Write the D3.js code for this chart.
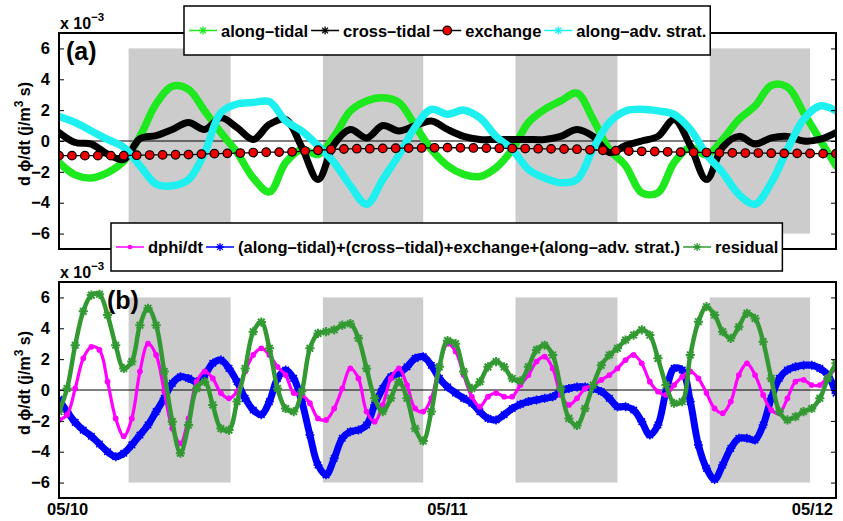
<!DOCTYPE html>
<html>
<head>
<meta charset="utf-8">
<script src="https://cdn.jsdelivr.net/npm/d3@7/dist/d3.min.js"></script>
<style>
  body { margin: 0; background: #fff; }
  svg { display: block; }
  text { font-family: "Liberation Sans", Arial, Helvetica, sans-serif; font-weight: bold; fill: #000; }
</style>
</head>
<body>
<div id="chart"></div>
<script>
// ---- data (units of 1e-3 j/m^3 s), time in hours from 05/10 00:00 ----
const stepA = 1;      // hourly samples, panel (a)
const stepExch = 0.8; // exchange markers
const stepB = 0.5;    // half-hour samples, panel (b)

const alongTidal = [-1.4, -2.2, -2.4, -2.05, -1.3, 0.3, 2.4, 3.55, 3.35, 1.95,
  0.55, -0.75, -2.4, -3.3, -1.4, -0.55, -0.87, 0.3, 1.95, 2.6,
  2.8, 2.5, 1.0, -0.55, -1.6, -2.16, -2.3, -1.73, -0.55, 1.2,
  2.05, 2.6, 3.1, 1.4, -0.55, -1.6, -3.35, -3.35, -1.4, -0.43,
  -0.9, 0.1, 1.4, 2.27, 3.6, 3.5, 1.84, 0.1, -1.6];

const crossTidal = [0.55, -0.1, -0.2, -0.85, -1.2, 0.15, 0.35, 0.75, 1.2, 0.75,
  1.5, 0.87, 0.1, 1.08, 1.4, -0.4, -2.5, -0.2, 0.75, 0.2,
  1.0, 0.65, 1.0, 1.3, 0.75, 0.3, 0.1, 0.1, 0.1, 0.1,
  0.1, 0.3, 0.75, 0.3, -0.75, -0.3, 0.0, 0.3, 1.4, -0.3,
  -2.5, -0.4, 0.3, -0.2, 0.2, 0.3, 0.0, 0.1, 0.55];

const exchange = [-0.95, -0.95, -0.95, -0.95, -0.95, -0.95, -0.92, -0.91, -0.9, -0.89,
  -0.88, -0.85, -0.82, -0.8, -0.78, -0.75, -0.73, -0.72, -0.7, -0.65,
  -0.6, -0.55, -0.52, -0.5, -0.5, -0.48, -0.47, -0.46, -0.45, -0.44,
  -0.43, -0.44, -0.45, -0.46, -0.47, -0.48, -0.49, -0.5, -0.51, -0.52,
  -0.53, -0.57, -0.6, -0.63, -0.65, -0.67, -0.68, -0.7, -0.72, -0.73,
  -0.75, -0.76, -0.77, -0.78, -0.78, -0.79, -0.8, -0.8, -0.81, -0.82, -0.82];

const alongAdvStrat = [1.58, 1.2, 0.65, 0.1, -0.4, -1.6, -2.8, -2.9, -2.5, -0.75,
  1.84, 2.4, 2.5, 2.55, 1.3, 0.65, -0.3, -1.4, -2.9, -4.1,
  -2.5, -0.9, 0.9, 2.05, 1.73, 2.0, 1.5, 0.3, -0.55, -1.84,
  -2.4, -2.7, -2.5, -0.5, 1.2, 1.95, 2.05, 1.95, 1.73, 0.75,
  -0.87, -2.05, -3.46, -4.1, -2.7, -0.55, 1.4, 2.27, 1.95];

const dphiDt = [-1.94, -1.6, 0.1, 2.05, 2.8, 2.6, 0.54, -1.84, -3.0, -1.84,
  1.2, 3.0, 2.27, -0.1, -2.5, -3.46, -1.84, 0.54, 1.2, 0.75,
  -0.2, -0.54, -0.1, 1.2, 2.27, 2.7, 2.27, 1.5, 0.97, -0.2,
  -0.32, -0.86, -1.84, -1.94, -1.2, 0.1, 1.4, 0.75, -1.4, -2.05,
  -0.97, 0.75, 1.4, 0.32, -1.2, -1.4, -0.54, 1.6, 3.0, 2.5,
  0.97, -0.43, -1.08, -0.43, -0.2, -0.43, -0.43, 0.32, 0.97, 1.84,
  2.16, 1.4, -0.32, -0.97, -0.54, 0.1, 0.32, 0.65, 0.97, 1.4,
  1.94, 2.27, 1.73, 0.54, -0.1, -0.32, 0.32, 0.86, 1.2, 0.75,
  -0.2, -1.2, -1.5, -0.75, 0.97, 1.73, 0.97, -0.32, -1.3, -1.5,
  -0.54, 0.54, 0.65, 0.32, 0.32, 0.86, 1.4];

const termSum = [-0.6, -1.4, -2.1, -2.6, -3.0, -3.5, -4.0, -4.32, -4.1, -3.56,
  -2.92, -2.27, -1.4, -0.54, 0.43, 0.86, 0.75, 0.54, 0.97, 1.73,
  1.94, 1.4, 0.54, -0.54, -1.3, -1.6, -0.75, 0.75, 1.3, 0.75,
  -0.75, -2.92, -4.86, -5.5, -4.43, -3.13, -2.7, -2.6, -2.27, -0.97,
  0.1, 0.86, 1.08, 1.5, 2.05, 2.16, 1.6, 0.75, 0.2, -0.2,
  -0.54, -0.86, -1.4, -1.84, -1.94, -1.6, -1.2, -0.93, -0.75, -0.65,
  -0.54, -0.43, -0.1, 0.1, 0.2, 0.2, 0.1, -0.1, -0.54, -1.08,
  -1.08, -1.3, -2.05, -2.92, -2.27, -0.1, 1.4, 1.3, -0.75, -3.56,
  -5.08, -5.8, -4.86, -3.78, -3.13, -3.13, -3.24, -2.27, -0.54, 0.75,
  1.3, 1.5, 1.6, 1.6, 1.4, 0.97, -0.2];

const residual = [-1.4, 0.1, 2.9, 5.1, 6.15, 6.2, 4.86, 2.9, 1.4, 1.84,
  4.2, 5.3, 4.2, 1.2, -2.05, -4.1, -2.27, 0.1, 0.54, -0.97,
  -2.5, -2.6, -0.75, 1.4, 3.78, 4.4, 2.7, 0.1, -1.2, -1.4,
  -0.1, 2.7, 3.67, 3.78, 3.9, 4.2, 4.3, 3.35, 1.4, -0.54,
  -1.4, -0.54, 0.54, -0.54, -2.5, -3.3, -1.4, 1.5, 3.2, 3.0,
  1.2, 0.1, 0.54, 1.5, 1.84, 1.5, 0.75, 0.6, 1.5, 2.6,
  2.9, 2.27, 0.1, -1.84, -2.3, -1.2, 0.32, 1.6, 2.27, 2.7,
  3.24, 3.56, 3.9, 3.56, 2.05, 0.32, -0.86, -0.75, 2.27, 4.43,
  5.4, 4.86, 3.78, 3.35, 4.1, 4.97, 4.64, 3.13, 0.75, -1.4,
  -1.94, -1.73, -1.4, -1.2, -0.54, 0.75, 1.73];

// shaded intervals [start, end] in hours
const shadeStart = [4.3, 16.3, 28.2, 40.2];
const shadeEnd = [10.6, 22.5, 34.5, 46.4];
const shadeRange = [-6, 6];

const yTicks = [-6, -4, -2, 0, 2, 4, 6];
const xTicks = [0, 24, 48];
const xTickLabels = ['05/10', '05/11', '05/12'];

// ---- layout ----
const W = 843, H = 521;
const svg = d3.select('#chart').append('svg').attr('width', W).attr('height', H);

const x = d3.scaleLinear().domain([0, 48]).range([59, 836]);
const panelA = { top: 33, bottom: 249, id: 'a' };
const panelB = { top: 282, bottom: 498, id: 'b' };
[panelA, panelB].forEach(p => {
  p.y = d3.scaleLinear().domain([-7, 7]).range([p.bottom, p.top]);
});

const toPts = (vals, step) => vals.map((v, i) => ({ t: i * step, v }));

function starPath(s) {
  const d = s * 0.72;
  return `M${-s},0L${s},0M0,${-s}L0,${s}M${-d},${-d}L${d},${d}M${-d},${d}L${d},${-d}`;
}

function drawFrame(p) {
  const g = svg.append('g');
  const defs = svg.append('defs');
  defs.append('clipPath').attr('id', 'clip-' + p.id)
    .append('rect').attr('x', x(0)).attr('y', p.top)
    .attr('width', x(48) - x(0)).attr('height', p.bottom - p.top);

  // shading
  g.selectAll('rect.shade').data(shadeStart).join('rect')
    .attr('x', (d, i) => x(d))
    .attr('width', (d, i) => x(shadeEnd[i]) - x(d))
    .attr('y', p.y(shadeRange[1]))
    .attr('height', p.y(shadeRange[0]) - p.y(shadeRange[1]))
    .attr('fill', '#cccccc');

  // zero line
  g.append('line').attr('x1', x(0)).attr('x2', x(48))
    .attr('y1', p.y(0)).attr('y2', p.y(0))
    .attr('stroke', '#000').attr('stroke-width', 1);

  p.plot = svg.append('g').attr('clip-path', `url(#clip-${p.id})`);
}

function drawAxes(p) {
  const g = svg.append('g');
  g.append('rect').attr('x', x(0)).attr('y', p.top)
    .attr('width', x(48) - x(0)).attr('height', p.bottom - p.top)
    .attr('fill', 'none').attr('stroke', '#000').attr('stroke-width', 2);

  const left = g.append('g').attr('transform', `translate(${x(0)},0)`)
    .call(d3.axisLeft(p.y).tickValues(yTicks).tickSizeInner(-5).tickSizeOuter(0).tickPadding(9));
  left.select('.domain').remove();
  left.selectAll('text').attr('font-size', 16.5).attr('font-family', null);

  const right = g.append('g').attr('transform', `translate(${x(48)},0)`)
    .call(d3.axisRight(p.y).tickValues(yTicks).tickSizeInner(-5).tickSizeOuter(0).tickFormat(''));
  right.select('.domain').remove();

  // x 10^-3
  const e = g.append('text').attr('x', x(0) + 1).attr('y', p.top - 4).attr('font-size', 16);
  e.append('tspan').text('x 10');
  e.append('tspan').attr('dy', -8).attr('font-size', 11.5).text('\u22123');

  // y label
  const yl = g.append('text')
    .attr('transform', `translate(30,${(p.top + p.bottom) / 2 - 7}) rotate(-90)`)
    .attr('text-anchor', 'middle').attr('font-size', 16);
  yl.append('tspan').text('d \u03d5/dt (j/m');
  yl.append('tspan').attr('dy', -7).attr('font-size', 12).text('3');
  yl.append('tspan').attr('dy', 7).text(' s)');
}

drawFrame(panelA);
drawFrame(panelB);

const line = p => d3.line()
  .x(d => x(d.t)).y(d => p.y(d.v))
  .curve(d3.curveCatmullRom.alpha(0.5));

// ---- panel (a) ----
const seriesA = [
  { vals: alongTidal, color: '#1ee81e', w: 7.5 },
  { vals: crossTidal, color: '#000000', w: 7 },
  { vals: alongAdvStrat, color: '#1ef0f0', w: 7.5 }
];
seriesA.forEach(s => {
  panelA.plot.append('path').datum(toPts(s.vals, stepA))
    .attr('d', line(panelA))
    .attr('fill', 'none').attr('stroke', s.color)
    .attr('stroke-width', s.w).attr('stroke-linejoin', 'round').attr('stroke-linecap', 'round');
});
const exPts = toPts(exchange, stepExch);
panelA.plot.append('path').datum(exPts).attr('d', line(panelA))
  .attr('fill', 'none').attr('stroke', '#000').attr('stroke-width', 1.3);
panelA.plot.selectAll('circle.ex').data(exPts).join('circle')
  .attr('cx', d => x(d.t)).attr('cy', d => panelA.y(d.v)).attr('r', 4.3)
  .attr('fill', '#ee0000').attr('stroke', '#000').attr('stroke-width', 1.2);

// ---- panel (b) ----
const sumPts = toPts(termSum, stepB);
panelB.plot.append('path').datum(sumPts).attr('d', line(panelB))
  .attr('fill', 'none').attr('stroke', '#0000ff').attr('stroke-width', 7)
  .attr('stroke-linejoin', 'round');
panelB.plot.selectAll('path.sumstar').data(sumPts).join('path')
  .attr('transform', d => `translate(${x(d.t)},${panelB.y(d.v)})`)
  .attr('d', starPath(4.5)).attr('stroke', '#0000ff').attr('stroke-width', 1.6);

const dPts = toPts(dphiDt, stepB);
panelB.plot.append('path').datum(dPts).attr('d', line(panelB))
  .attr('fill', 'none').attr('stroke', '#ff00ff').attr('stroke-width', 3.2);
panelB.plot.selectAll('circle.dp').data(dPts).join('circle')
  .attr('cx', d => x(d.t)).attr('cy', d => panelB.y(d.v)).attr('r', 2.9)
  .attr('fill', '#ff00ff');

const rPts = toPts(residual, stepB);
panelB.plot.append('path').datum(rPts).attr('d', line(panelB))
  .attr('fill', 'none').attr('stroke', '#339933').attr('stroke-width', 4.5)
  .attr('stroke-linejoin', 'round');
panelB.plot.selectAll('path.rstar').data(rPts).join('path')
  .attr('transform', d => `translate(${x(d.t)},${panelB.y(d.v)})`)
  .attr('d', starPath(4.6)).attr('stroke', '#339933').attr('stroke-width', 2);

drawAxes(panelA);
drawAxes(panelB);

// panel letters
svg.append('text').attr('x', 66).attr('y', 60).attr('font-size', 25).text('(a)');
svg.append('text').attr('x', 107).attr('y', 309).attr('font-size', 25).text('(b)');

// x tick labels
const xAnchor = ['start', 'middle', 'end'];
const xShift = [-12, 0, -3];
svg.selectAll('text.xt').data(xTicks).join('text')
  .attr('x', (d, i) => x(d) + xShift[i]).attr('y', 515)
  .attr('text-anchor', (d, i) => xAnchor[i]).attr('font-size', 16.5)
  .text((d, i) => xTickLabels[i]);

// ---- legends ----
function legend(x0, yTop, h, items) {
  const g = svg.append('g');
  const box = g.append('rect').attr('y', yTop).attr('height', h)
    .attr('fill', '#fff').attr('stroke', '#000').attr('stroke-width', 1.5);
  const cy = yTop + h / 2;
  let cx = x0 + 5;
  items.forEach(it => {
    g.append('line').attr('x1', cx).attr('x2', cx + 28).attr('y1', cy).attr('y2', cy)
      .attr('stroke', it.color).attr('stroke-width', 1.5);
    if (it.marker === 'star') {
      g.append('path').attr('transform', `translate(${cx + 14},${cy})`)
        .attr('d', starPath(4)).attr('stroke', it.color).attr('stroke-width', 1.3);
    } else if (it.marker === 'circle') {
      g.append('circle').attr('cx', cx + 14).attr('cy', cy).attr('r', 4.3)
        .attr('fill', '#ee0000').attr('stroke', '#000').attr('stroke-width', 1.2);
    } else {
      g.append('circle').attr('cx', cx + 14).attr('cy', cy).attr('r', 2.3).attr('fill', it.color);
    }
    const t = g.append('text').attr('x', cx + 32).attr('y', cy + 6)
      .attr('font-size', 16.5).text(it.label);
    cx = cx + 32 + t.node().getComputedTextLength() + 3;
  });
  box.attr('x', x0).attr('width', cx - x0 + 1);
}

legend(184, 6, 49, [
  { label: 'along\u2013tidal', color: '#1ee81e', marker: 'star' },
  { label: 'cross\u2013tidal', color: '#000', marker: 'star' },
  { label: 'exchange', color: '#000', marker: 'circle' },
  { label: 'along\u2013adv. strat.', color: '#1ef0f0', marker: 'star' }
]);
legend(111, 223, 48, [
  { label: 'dphi/dt', color: '#ff00ff', marker: 'dot' },
  { label: '(along\u2013tidal)+(cross\u2013tidal)+exchange+(along\u2013adv. strat.)', color: '#0000ff', marker: 'star' },
  { label: 'residual', color: '#339933', marker: 'star' }
]);
</script>
</body>
</html>
